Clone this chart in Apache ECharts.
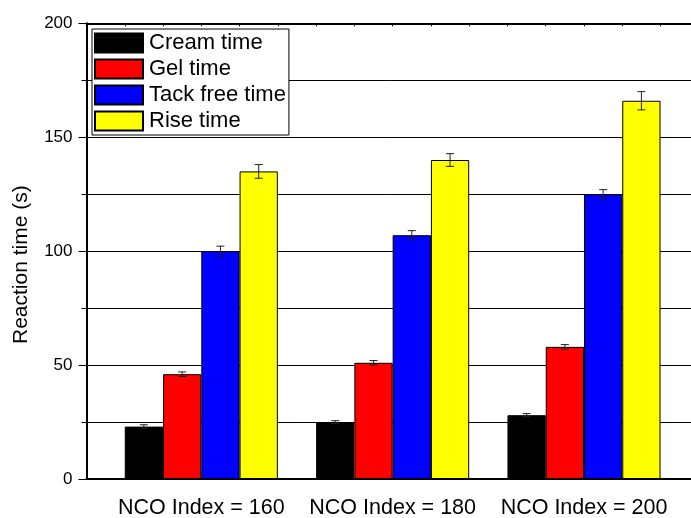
<!DOCTYPE html>
<html>
<head>
<meta charset="utf-8">
<script src="https://cdn.jsdelivr.net/npm/echarts@6/dist/echarts.min.js"></script>
<style>
  html, body { margin: 0; padding: 0; background: #fff; }
  #chart { width: 691px; height: 518px; }
</style>
</head>
<body>
<div id="chart"></div>
<script>
// ---- data ----
const categories = ['NCO Index = 160', 'NCO Index = 180', 'NCO Index = 200'];
const groupPositions = [1, 2, 3];
const seriesNames = ['Cream time', 'Gel time', 'Tack free time', 'Rise time'];
const creamTime = [23, 25, 28];
const gelTime = [46, 51, 58];
const tackFreeTime = [100, 107, 125];
const riseTime = [135, 140, 166];
const creamErr = [0.8, 0.6, 0.7];
const gelErr = [1, 1, 1];
const tackFreeErr = [2.2, 2, 2];
const riseErr = [3, 2.8, 4];
const yTicks = [0, 50, 100, 150, 200];

const values = [creamTime, gelTime, tackFreeTime, riseTime];
const errors = [creamErr, gelErr, tackFreeErr, riseErr];
const colors = ['#000000', '#ff0000', '#0000ff', '#ffff00'];
const FONT = "'Liberation Sans', Arial, sans-serif";
const BAR_UNITS = 0.2; // bar width in x-axis units

const chart = echarts.init(document.getElementById('chart'), null, { renderer: 'canvas' });

const barSeries = values.map((vals, i) => ({
  name: seriesNames[i],
  type: 'bar',
  xAxisIndex: 0,
  barWidth: 38.27,
  barGap: '0%',
  data: vals.map((v, j) => [groupPositions[j], v]),
  itemStyle: { color: colors[i], borderColor: '#000', borderWidth: 1 },
  z: 2
}));

const errData = [];
values.forEach((vals, i) => {
  vals.forEach((v, j) => {
    errData.push([groupPositions[j], v - errors[i][j], v + errors[i][j], i]);
  });
});

const errorSeries = {
  type: 'custom',
  xAxisIndex: 0,
  z: 5,
  silent: true,
  data: errData,
  encode: { x: 0, y: [1, 2] },
  renderItem: function (params, api) {
    const idx = api.value(3);
    const xv = api.value(0) + (idx - 1.5) * BAR_UNITS;
    const lo = api.coord([xv, api.value(1)]);
    const hi = api.coord([xv, api.value(2)]);
    const hw = 4;
    const style = { stroke: '#222', lineWidth: 1 };
    return {
      type: 'group',
      children: [
        { type: 'line', shape: { x1: lo[0], y1: lo[1], x2: hi[0], y2: hi[1] }, style },
        { type: 'line', shape: { x1: lo[0] - hw, y1: lo[1], x2: lo[0] + hw, y2: lo[1] }, style },
        { type: 'line', shape: { x1: hi[0] - hw, y1: hi[1], x2: hi[0] + hw, y2: hi[1] }, style }
      ]
    };
  }
};

const option = {
  backgroundColor: '#ffffff',
  animation: false,
  textStyle: { fontFamily: FONT },
  grid: { left: 86.5, width: 612.3, top: 23.3, bottom: 39, containLabel: false, outerBoundsMode: 'none' },
  legend: {
    data: seriesNames,
    orient: 'vertical',
    left: 92,
    top: 29,
    padding: [3, 3, 3, 2],
    itemWidth: 48,
    itemHeight: 19,
    itemGap: 4,
    icon: 'rect',
    borderColor: '#000',
    borderWidth: 1,
    backgroundColor: '#fff',
    textStyle: { fontFamily: FONT, fontSize: 22, color: '#000', padding: [0, 0, 0, 1] }
  },
  xAxis: [
    {
      type: 'value',
      position: 'bottom',
      min: 0.4,
      max: 3.6,
      interval: 0.2,
      axisLine: { show: true, lineStyle: { color: '#000', width: 2 } },
      axisTick: { show: false },
      splitLine: { show: false },
      axisLabel: {
        customValues: groupPositions,
        formatter: function (v) { return categories[groupPositions.indexOf(Math.round(v))] || ''; },
        color: '#000',
        fontSize: 21.5,
        fontFamily: FONT,
        margin: 18
      }
    },
    {
      type: 'value',
      position: 'top',
      min: 0.4,
      max: 3.6,
      interval: 0.2,
      axisLine: { show: true, lineStyle: { color: '#000', width: 2 } },
      axisTick: { show: true, inside: true, length: 3, lineStyle: { color: '#000', width: 1 } },
      axisLabel: { show: false },
      splitLine: { show: false }
    }
  ],
  yAxis: {
    type: 'value',
    min: 0,
    max: 200,
    interval: 50,
    name: 'Reaction time (s)',
    nameLocation: 'middle',
    nameGap: 55,
    nameTextStyle: { fontSize: 21, color: '#000', fontFamily: FONT, padding: [0, 27, 0, 0] },
    axisLine: { show: true, lineStyle: { color: '#000', width: 2 } },
    axisTick: { show: true, inside: false, length: 8, lineStyle: { color: '#000', width: 1 } },
    minorTick: { show: true, splitNumber: 2, length: 5, lineStyle: { color: '#000', width: 1 } },
    axisLabel: {
      color: '#000',
      fontSize: 17,
      fontFamily: FONT,
      margin: 14,
      customValues: yTicks
    },
    splitLine: { show: true, lineStyle: { color: '#000', width: 1 } },
    minorSplitLine: { show: true, lineStyle: { color: '#000', width: 1 } }
  },
  series: barSeries.concat([errorSeries])
};

chart.setOption(option);
</script>
</body>
</html>
